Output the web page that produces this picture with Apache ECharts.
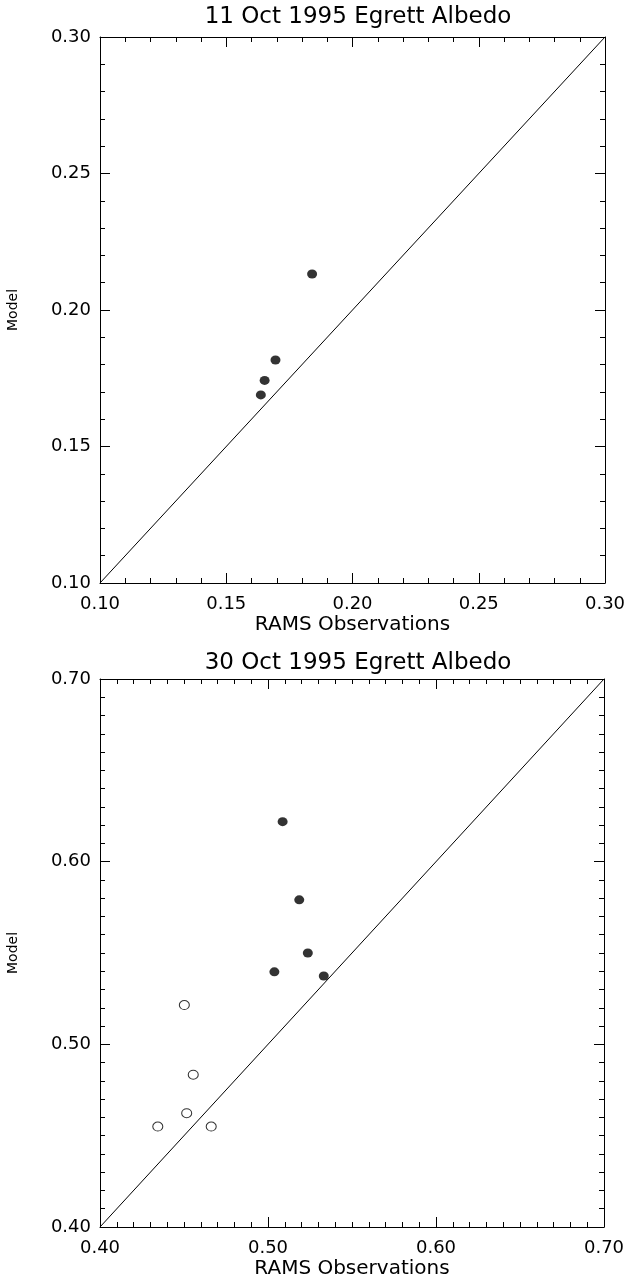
<!DOCTYPE html>
<html>
<head>
<meta charset="utf-8">
<script src="https://cdn.jsdelivr.net/npm/echarts@6/dist/echarts.min.js"></script>
<style>
	html, body { margin: 0; padding: 0; background: #fff; }
	#albedo-chart { width: 627px; height: 1279px; }
</style>
</head>
<body>
<div id="albedo-chart"></div>
<script>
	// 11 Oct 1995
	let obs1 = [0.1840, 0.1695, 0.1652, 0.1637];
	let model1 = [0.2132, 0.1817, 0.1742, 0.1689];
	let range1 = [0.10, 0.30];
	let step1 = 0.05;

	// 30 Oct 1995 (filled and open symbols)
	let obs2Filled = [0.5087, 0.5186, 0.5237, 0.5038, 0.5332];
	let model2Filled = [0.6219, 0.5791, 0.5500, 0.5397, 0.5374];
	let obs2Open = [0.4502, 0.4555, 0.4516, 0.4344, 0.4662];
	let model2Open = [0.5215, 0.4834, 0.4623, 0.4550, 0.4550];
	let range2 = [0.40, 0.70];
	let step2 = 0.10;

	let titles = ['11 Oct 1995 Egrett Albedo', '30 Oct 1995 Egrett Albedo'];
	let xName = 'RAMS Observations';
	let yName = 'Model';

	let font = 'DejaVu Sans';

	function pairs(xs, ys) {
		return xs.map((x, i) => [x, ys[i]]);
	}

	function axis(gridIndex, range, step, minorSplit, position, isX) {
		let main = position == 'bottom' || position == 'left';
		let ax = {
			type: 'value',
			gridIndex: gridIndex,
			position: position,
			min: range[0],
			max: range[1],
			interval: step,
			axisLine: { show: true, onZero: false, lineStyle: { color: '#000', width: 1 } },
			axisTick: { show: true, inside: true, length: 10, lineStyle: { color: '#000', width: 1 } },
			minorTick: { show: true, splitNumber: minorSplit, length: 5, lineStyle: { color: '#000', width: 1 } },
			splitLine: { show: false },
			axisLabel: {
				show: main,
				color: '#000',
				fontFamily: font,
				fontSize: 18,
				margin: isX ? 12 : 9,
				formatter: v => v.toFixed(2)
			}
		};
		if (main) {
			ax.name = isX ? xName : yName;
			ax.nameLocation = 'middle';
			ax.nameGap = isX ? 32 : 80;
			ax.nameTextStyle = {
				color: '#000',
				fontFamily: font,
				fontSize: isX ? 20 : 14
			};
		}
		return ax;
	}

	let chart = echarts.init(document.getElementById('albedo-chart'));

	let chartOption = {
		animation: false,
		backgroundColor: '#fff',
		title: [
			{ text: titles[0], left: 353, top: 1, textAlign: 'center',
				textStyle: { color: '#000', fontFamily: font, fontSize: 23, fontWeight: 'normal' } },
			{ text: titles[1], left: 353, top: 647, textAlign: 'center',
				textStyle: { color: '#000', fontFamily: font, fontSize: 23, fontWeight: 'normal' } }
		],
		grid: [
			{ left: 100, top: 37, width: 505, height: 546, outerBoundsMode: 'none' },
			{ left: 100, top: 679, width: 504, height: 548, outerBoundsMode: 'none' }
		],
		xAxis: [
			axis(0, range1, step1, 5, 'bottom', true),
			axis(0, range1, step1, 5, 'top', true),
			axis(1, range2, step2, 10, 'bottom', true),
			axis(1, range2, step2, 10, 'top', true)
		],
		yAxis: [
			axis(0, range1, step1, 5, 'left', false),
			axis(0, range1, step1, 5, 'right', false),
			axis(1, range2, step2, 10, 'left', false),
			axis(1, range2, step2, 10, 'right', false)
		],
		series: [
			{
				type: 'line', xAxisIndex: 0, yAxisIndex: 0,
				data: [[range1[0], range1[0]], [range1[1], range1[1]]],
				symbol: 'none', silent: true,
				lineStyle: { color: '#000', width: 1 }
			},
			{
				type: 'scatter', xAxisIndex: 0, yAxisIndex: 0,
				data: pairs(obs1, model1),
				symbol: 'circle', symbolSize: [10, 9],
				itemStyle: { color: '#000' }
			},
			{
				type: 'line', xAxisIndex: 2, yAxisIndex: 2,
				data: [[range2[0], range2[0]], [range2[1], range2[1]]],
				symbol: 'none', silent: true,
				lineStyle: { color: '#000', width: 1 }
			},
			{
				type: 'scatter', xAxisIndex: 2, yAxisIndex: 2,
				data: pairs(obs2Filled, model2Filled),
				symbol: 'circle', symbolSize: [10, 9],
				itemStyle: { color: '#000' }
			},
			{
				type: 'scatter', xAxisIndex: 2, yAxisIndex: 2,
				data: pairs(obs2Open, model2Open),
				symbol: 'circle', symbolSize: [10, 9],
				itemStyle: { color: '#fff', borderColor: '#000', borderWidth: 1 }
			}
		]
	};
	chart.setOption(chartOption);
</script>
</body>
</html>
